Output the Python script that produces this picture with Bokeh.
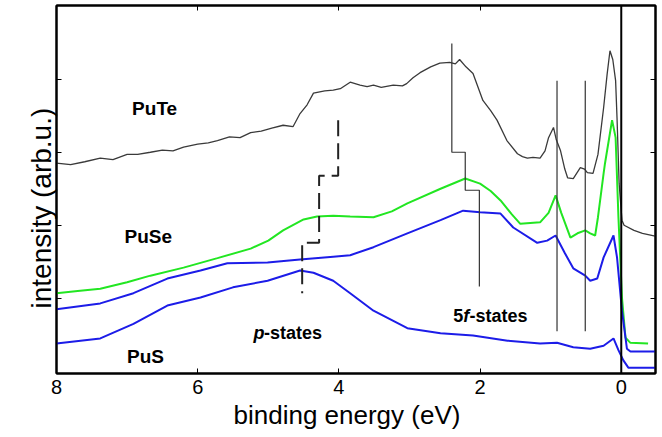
from bokeh.plotting import figure
from bokeh.models import Range1d, FixedTicker, LinearAxis, Span, Title, CustomJSTickFormatter
from bokeh.core.properties import value
from bokeh.embed import file_html
from bokeh.resources import INLINE

# ---- data (binding energy in eV, intensity in arb. units) ----
pute_x = [8.00, 7.80, 7.60, 7.38, 7.20, 7.00, 6.85, 6.67, 6.50, 6.35, 6.20, 6.00, 5.85, 5.72,
          5.55, 5.40, 5.25, 5.10, 4.95, 4.79, 4.65, 4.55, 4.45, 4.36, 4.20, 4.08, 3.98, 3.84,
          3.70, 3.60, 3.51, 3.40, 3.23, 3.10, 3.04, 2.95, 2.85, 2.70, 2.57, 2.43, 2.35, 2.29,
          2.20, 2.10, 1.96, 1.85, 1.76, 1.62, 1.47, 1.40, 1.33, 1.25, 1.15, 1.08, 1.03, 0.96,
          0.92, 0.86, 0.80, 0.76, 0.68, 0.58, 0.52, 0.48, 0.40, 0.33, 0.25, 0.20, 0.16, 0.12,
          0.08, 0.06, 0.03, -0.01, -0.04, -0.18, -0.30, -0.48]
pute_y = [2.88, 2.86, 2.90, 2.95, 2.93, 3.00, 3.00, 3.03, 3.06, 3.05, 3.10, 3.14, 3.16, 3.19,
          3.24, 3.23, 3.30, 3.32, 3.36, 3.40, 3.38, 3.56, 3.68, 3.84, 3.87, 3.88, 3.90, 3.99,
          3.95, 3.93, 3.95, 3.92, 3.95, 3.94, 3.97, 4.05, 4.12, 4.20, 4.25, 4.26, 4.24, 4.30,
          4.20, 4.11, 3.74, 3.60, 3.47, 3.19, 3.01, 2.97, 2.95, 2.96, 2.95, 3.05, 3.23, 3.37,
          3.20, 3.05, 2.80, 2.68, 2.67, 2.82, 2.80, 2.75, 2.74, 3.00, 3.64, 4.10, 4.42, 4.30,
          4.01, 3.50, 2.60, 2.10, 2.03, 1.96, 1.92, 1.88]

puse_x = [8.00, 7.70, 7.38, 7.00, 6.67, 6.20, 5.72, 5.25, 5.00, 4.79, 4.50, 4.31, 4.08, 3.84,
          3.51, 3.25, 3.03, 2.56, 2.21, 2.00, 1.85, 1.71, 1.55, 1.43, 1.15, 1.03, 0.93, 0.85,
          0.72, 0.62, 0.51, 0.44, 0.37, 0.33, 0.25, 0.23, 0.13, 0.08, 0.04, -0.01, -0.06,
          -0.13, -0.38]
puse_y = [1.10, 1.13, 1.16, 1.25, 1.34, 1.45, 1.58, 1.71, 1.82, 1.96, 2.11, 2.15, 2.16, 2.15,
          2.14, 2.22, 2.33, 2.53, 2.67, 2.60, 2.50, 2.37, 2.18, 2.05, 2.07, 2.20, 2.44, 2.20,
          1.86, 1.92, 1.96, 1.92, 1.89, 2.14, 2.74, 2.88, 3.47, 3.23, 2.14, 1.04, 0.49,
          0.42, 0.41]

puse2_x = [8.00, 7.38, 6.91, 6.43, 5.96, 5.58, 5.01, 4.55, 4.08, 3.84, 3.51, 3.03, 2.56, 2.24,
           2.00, 1.71, 1.53, 1.19, 1.05, 0.93, 0.80, 0.68, 0.51, 0.44, 0.34, 0.25, 0.11, 0.06,
           -0.01, -0.08, -0.13, -0.48]
puse2_y = [0.88, 0.96, 1.10, 1.30, 1.41, 1.51, 1.52, 1.56, 1.60, 1.62, 1.73, 1.92, 2.10, 2.23,
           2.21, 2.19, 2.00, 1.79, 1.82, 1.89, 1.65, 1.44, 1.34, 1.27, 1.30, 1.59, 1.89, 1.59,
           0.86, 0.34, 0.30, 0.30]

pus_x = [8.00, 7.38, 6.91, 6.43, 5.96, 5.50, 5.01, 4.55, 4.36, 4.08, 3.84, 3.51, 3.03, 2.56,
         2.10, 1.61, 1.15, 0.91, 0.68, 0.44, 0.25, 0.11, 0.04, -0.03, -0.10, -0.48]
pus_y = [0.41, 0.48, 0.68, 0.93, 1.04, 1.18, 1.27, 1.41, 1.38, 1.27, 1.10, 0.86, 0.62, 0.55,
         0.52, 0.45, 0.41, 0.42, 0.36, 0.34, 0.38, 0.48, 0.32, 0.18, 0.08, 0.08]

# marker lines
f_step_x = [2.40, 2.40, 2.21, 2.21, 2.01, 2.01]
f_step_y = [4.52, 3.03, 3.03, 2.51, 2.51, 1.19]
f_lines_x = [0.91, 0.51]
f_lines_top = 4.01
f_lines_bottom = 0.58
p_step_x = [4.01, 4.01, 4.28, 4.28, 4.52, 4.52]
p_step_y = [3.47, 2.71, 2.71, 1.79, 1.79, 1.10]

x_ticks = [8, 6, 4, 2, 0]
top_ticks = [6, 4, 2]
y_ticks = [1.03, 2.03, 3.03, 4.03]

FONT = "Liberation Sans"

p = figure(width=660, height=436, output_backend="svg", toolbar_location=None,
           x_range=Range1d(8, -0.485), y_range=Range1d(0, 5.04),
           min_border_left=56, min_border_right=5, min_border_top=5, min_border_bottom=63)
p.grid.visible = False
p.outline_line_color = "black"
p.outline_line_width = 2

blank = CustomJSTickFormatter(code="return ''")

xa = p.xaxis[0]
xa.ticker = FixedTicker(ticks=x_ticks)
xa.major_tick_in = 5
xa.major_tick_out = 0
xa.minor_tick_line_color = None
xa.axis_line_width = 2
xa.major_label_text_font = FONT
xa.major_label_text_font_size = "20px"
xa.major_label_text_color = "black"
xa.major_label_standoff = 6

ya = p.yaxis[0]
ya.ticker = FixedTicker(ticks=y_ticks)
ya.formatter = blank
ya.major_tick_in = 5
ya.major_tick_out = 0
ya.minor_tick_line_color = None
ya.axis_line_width = 2
ya.major_label_standoff = 10

top = LinearAxis(ticker=FixedTicker(ticks=top_ticks), formatter=blank,
                 major_tick_in=5, major_tick_out=0, minor_tick_line_color=None,
                 major_label_standoff=0, axis_line_width=2)
p.add_layout(top, "above")
right = LinearAxis(ticker=FixedTicker(ticks=y_ticks), formatter=blank,
                   major_tick_in=5, major_tick_out=0, minor_tick_line_color=None,
                   major_label_standoff=0, axis_line_width=2)
p.add_layout(right, "right")

# axis titles, positioned as in the reference
p.add_layout(Title(text="binding energy (eV)", align="left", offset=177, standoff=2,
                   text_font=FONT, text_font_size="26px", text_font_style="normal",
                   text_color="black"), "below")
p.add_layout(Title(text="intensity (arb.u.)", align="left", offset=65, standoff=0,
                   text_font=FONT, text_font_size="28px", text_font_style="normal",
                   text_color="black"), "left")

# curves
p.line(pute_x, pute_y, line_color="#3a3a3a", line_width=1.3)
p.line(puse_x, puse_y, line_color="#22e622", line_width=2)
p.line(puse2_x, puse2_y, line_color="#1c1ce8", line_width=2)
p.line(pus_x, pus_y, line_color="#1c1ce8", line_width=2)

# marker lines
p.add_layout(Span(location=0, dimension="height", line_color="black", line_width=2))
p.line(f_step_x, f_step_y, line_color="#333333", line_width=1.2)
p.segment(x0=f_lines_x, y0=[f_lines_top] * len(f_lines_x),
          x1=f_lines_x, y1=[f_lines_bottom] * len(f_lines_x),
          line_color="#333333", line_width=1.2)
p.line(p_step_x, p_step_y, line_color="#222222", line_width=2, line_dash="16 7")

# text labels
def txt(x, y, s, style="bold", align="center", size="19px"):
    p.text(x=[x], y=[y], text=[s], text_font=value(FONT), text_font_size=value(size),
           text_font_style=style, text_align=align, text_baseline="alphabetic",
           text_color="black")

txt(6.61, 3.63, "PuTe")
txt(6.70, 1.88, "PuSe")
txt(6.74, 0.23, "PuS")
txt(5.21, 0.55, "p", style="bold italic", align="left", size="18px")
txt(5.06, 0.55, "-states", align="left", size="18px")
txt(2.38, 0.79, "5", align="left", size="18px")
txt(2.24, 0.79, "f", style="bold italic", align="left", size="18px")
txt(2.15, 0.79, "-states", align="left", size="18px")

open("out.html", "w").write(file_html(p, INLINE))
